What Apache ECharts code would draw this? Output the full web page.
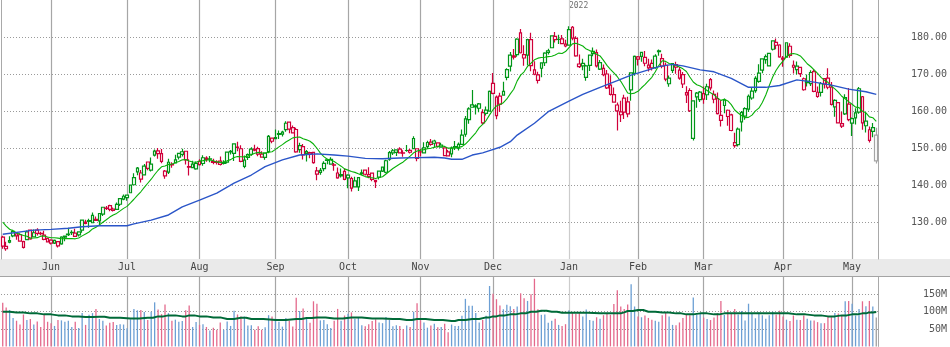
<!DOCTYPE html>
<html><head><meta charset="utf-8">
<script src="https://cdn.jsdelivr.net/npm/echarts@6/dist/echarts.min.js"></script>
<style>html,body{margin:0;padding:0;background:#fff}#c{width:950px;height:347px}</style>
</head><body><div id="c"></div>
<script>
// ---- trading days (year-month : days) ----
const tradingDays = [
  ['2021-05',[11,12,13,14,17,18,19,20,21,24,25,26,27,28]],
  ['2021-06',[1,2,3,4,7,8,9,10,11,14,15,16,17,18,21,22,23,24,25,28,29,30]],
  ['2021-07',[1,2,6,7,8,9,12,13,14,15,16,19,20,21,22,23,26,27,28,29,30]],
  ['2021-08',[2,3,4,5,6,9,10,11,12,13,16,17,18,19,20,23,24,25,26,27,30,31]],
  ['2021-09',[1,2,3,7,8,9,10,13,14,15,16,17,20,21,22,23,24,27,28,29,30]],
  ['2021-10',[1,4,5,6,7,8,11,12,13,14,15,18,19,20,21,22,25,26,27,28,29]],
  ['2021-11',[1,2,3,4,5,8,9,10,11,12,15,16,17,18,19,22,23,24,26,29,30]],
  ['2021-12',[1,2,3,6,7,8,9,10,13,14,15,16,17,20,21,22,23,27,28,29,30,31]],
  ['2022-01',[3,4,5,6,7,10,11,12,13,14,18,19,20,21,24,25,26,27,28,31]],
  ['2022-02',[1,2,3,4,7,8,9,10,11,14,15,16,17,18,22,23,24,25,28]],
  ['2022-03',[1,2,3,4,7,8,9,10,11,14,15,16,17,18,21,22,23,24,25,28,29,30,31]],
  ['2022-04',[1,4,5,6,7,8,11,12,13,14,18,19,20,21,22,25,26,27,28,29]],
  ['2022-05',[2,3,4,5,6,9,10,11]]
];
const prevClose = 126.85;
const opens = [123.50,123.40,124.58,126.25,126.82,126.56,123.16,125.23,127.82,126.01,
127.82,126.96,126.44,125.57,125.08,124.28,124.68,124.07,126.17,126.60,
127.21,127.02,126.53,127.82,129.94,130.37,129.80,130.71,130.30,132.13,
133.77,134.45,133.46,133.41,134.80,136.17,136.60,137.90,140.07,143.54,
141.58,142.75,146.21,144.03,148.10,149.24,148.46,143.75,143.46,145.53,
145.94,147.55,148.27,149.12,144.81,144.69,144.38,146.36,145.81,147.27,
146.98,146.35,146.20,146.44,146.05,146.19,148.97,148.54,150.23,149.80,
145.03,147.44,148.31,149.45,149.81,148.35,147.48,149.00,152.66,152.83,
153.87,153.76,154.97,156.98,155.49,155.00,150.63,150.35,148.56,148.44,
148.82,143.80,143.93,144.45,146.65,145.66,145.47,143.25,142.47,143.66,
141.90,141.76,139.49,139.47,143.06,144.03,142.27,143.23,141.24,142.11,
143.77,143.45,147.01,148.70,148.81,149.69,148.68,149.33,149.36,149.82,
147.22,148.99,148.66,150.39,151.58,151.89,151.41,150.20,150.02,148.96,
148.43,150.37,149.94,151.00,153.71,157.65,161.68,161.12,160.75,159.57,
159.37,159.99,167.48,158.74,164.02,164.29,169.08,172.13,174.91,175.21,
181.12,175.25,175.11,179.28,169.93,168.28,171.56,173.04,175.85,177.09,
180.16,179.33,179.47,178.09,177.83,182.63,179.61,172.70,172.89,169.08,
172.32,176.12,175.78,171.34,171.51,170.00,166.98,164.42,160.02,158.98,
163.50,162.45,165.71,170.16,174.01,174.75,174.48,171.68,172.86,171.73,
176.05,174.14,172.33,167.37,170.97,171.85,171.03,169.82,164.98,165.54,
152.58,163.84,163.06,164.70,164.39,168.47,164.49,163.36,158.82,161.48,
160.20,158.93,151.45,150.90,157.05,158.61,160.51,163.51,165.51,167.99,
171.06,173.88,172.17,176.69,178.55,177.84,174.03,174.57,177.50,172.36,
171.16,171.78,168.71,168.02,167.39,170.62,163.92,165.02,168.76,168.91,
166.46,161.12,162.25,155.91,159.25,161.84,156.71,158.15,159.67,163.85,
156.01,154.93,155.52,153.50];
const highs = [126.27,124.64,126.15,127.89,126.93,126.99,124.92,127.72,128.00,127.94,
128.32,127.39,127.64,125.80,125.35,125.24,124.85,126.16,126.32,128.46,
127.75,128.19,127.44,130.54,130.60,130.89,132.55,131.51,132.41,134.08,
134.32,134.64,133.89,135.25,136.49,137.41,137.33,140.00,143.15,144.89,
144.06,145.65,146.32,147.46,149.57,150.00,149.76,144.07,147.10,146.13,
148.20,148.72,149.83,149.21,146.97,146.55,146.33,146.95,148.04,147.79,
147.84,147.11,146.70,147.71,146.72,149.05,149.44,151.19,151.68,150.72,
148.00,148.50,150.19,150.86,150.32,149.12,148.75,153.49,152.80,154.98,
154.72,154.63,157.26,157.04,156.11,155.48,151.42,151.07,149.44,148.97,
148.82,144.84,144.60,146.43,147.08,147.47,145.96,144.75,144.45,144.38,
142.92,142.21,142.24,142.15,144.22,144.18,144.81,143.25,141.40,143.88,
144.90,146.84,149.17,149.75,149.64,150.18,149.37,150.84,149.73,153.17,
149.94,149.70,151.57,151.97,152.43,152.20,151.57,151.43,150.13,149.43,
150.40,151.88,151.49,155.00,158.67,161.02,165.70,161.80,162.14,160.45,
161.19,165.52,170.30,164.20,164.96,167.88,171.58,175.96,176.75,179.63,
182.13,177.74,179.50,181.14,173.47,170.58,173.20,175.86,176.85,180.42,
181.33,180.63,180.57,179.23,182.88,182.94,180.17,175.30,174.14,172.50,
175.18,177.18,176.62,173.78,172.54,171.08,169.68,166.33,162.30,162.76,
164.39,163.84,170.35,175.00,174.84,175.88,176.24,174.10,173.95,175.35,
176.65,175.48,173.08,169.58,172.95,173.34,171.91,170.54,166.69,166.15,
162.85,165.12,165.42,166.60,167.36,168.91,165.55,165.02,162.88,163.41,
160.39,159.28,154.12,155.57,160.00,161.00,164.48,166.35,169.42,172.64,
174.14,175.28,175.73,179.01,179.61,178.03,174.88,178.49,178.30,173.63,
173.36,171.78,169.03,169.87,171.04,171.27,166.60,167.82,168.88,171.53,
167.87,163.17,162.34,159.79,164.52,166.20,158.23,160.71,166.48,164.08,
159.44,155.83,156.74,155.45];
const lows = [122.77,122.25,124.26,125.85,125.17,124.78,122.86,125.10,125.21,125.94,
126.32,126.42,125.08,124.55,123.94,124.05,123.13,123.85,124.83,126.21,
126.52,125.94,126.10,127.07,129.39,128.46,129.65,130.24,129.21,131.62,
133.23,132.93,132.81,133.35,134.35,135.87,135.76,137.75,140.07,142.66,
140.67,142.65,144.00,143.63,147.68,147.09,145.88,141.67,142.96,144.63,
145.81,146.92,147.70,145.55,142.54,144.58,144.11,145.25,145.18,146.28,
146.17,145.63,145.52,145.30,145.53,145.84,148.27,146.47,149.09,146.15,
144.50,146.78,147.89,149.15,147.80,147.51,146.83,148.61,151.29,152.34,
152.40,153.09,154.39,153.98,153.95,148.70,148.75,146.91,146.37,147.22,
145.76,141.27,142.78,143.70,145.64,145.56,143.82,141.69,142.03,141.28,
139.11,138.27,139.36,138.37,142.72,142.56,141.81,141.04,139.20,141.51,
143.51,143.16,146.55,148.12,147.87,148.64,147.62,149.01,148.49,149.72,
146.41,147.80,148.65,149.82,150.64,150.06,150.16,150.06,147.85,147.68,
147.48,149.43,149.34,150.99,153.05,156.53,161.00,159.06,159.64,156.36,
158.79,159.92,164.53,157.80,159.72,164.28,168.34,170.70,173.92,174.69,
175.53,172.21,172.31,170.75,169.69,167.46,169.12,172.15,175.27,177.07,
178.53,178.14,178.09,177.26,177.71,179.12,174.64,171.64,171.03,168.17,
170.82,174.82,171.79,171.09,169.41,165.94,164.18,162.30,154.70,157.02,
157.82,158.28,162.80,169.51,172.31,173.33,172.12,170.68,170.95,171.43,
174.90,171.55,168.04,166.56,170.25,170.05,168.47,166.19,162.15,159.75,
152.00,160.87,162.43,161.97,162.95,165.55,162.10,159.04,155.80,159.41,
155.98,154.50,150.10,150.38,154.46,157.63,159.76,163.01,164.91,167.65,
170.21,172.75,172.00,176.34,176.70,174.40,171.94,174.44,174.42,170.13,
169.85,169.20,165.50,166.64,166.77,165.04,163.57,163.91,166.10,165.91,
161.50,158.46,156.72,155.38,158.93,157.25,153.27,156.32,159.26,154.95,
154.18,151.49,152.93,145.81];
const closes = [125.91,122.77,124.97,127.45,126.27,124.85,124.69,127.31,125.43,127.10,
126.90,126.85,125.28,124.61,124.28,125.06,123.54,125.89,125.90,126.74,
127.13,126.11,127.35,130.48,129.64,130.15,131.79,130.46,132.30,133.98,
133.70,133.41,133.11,134.78,136.33,136.96,137.27,139.96,142.02,144.57,
143.24,145.11,144.50,145.64,149.15,148.48,146.39,142.45,146.15,145.40,
146.80,148.56,148.99,146.77,144.98,145.64,145.86,145.52,147.36,146.95,
147.06,146.14,146.09,145.60,145.86,148.89,149.10,151.12,150.19,146.36,
146.70,148.19,149.71,149.62,148.36,147.54,148.60,153.12,151.83,152.51,
153.65,154.30,156.69,155.11,154.07,148.97,149.55,148.12,149.03,148.79,
146.06,142.94,143.43,145.85,146.83,146.92,145.37,141.91,142.83,141.50,
142.65,139.14,141.11,142.00,143.29,142.90,142.81,141.51,140.91,143.76,
144.84,146.55,148.76,149.26,149.48,148.69,148.64,149.32,148.85,152.57,
149.80,148.96,150.02,151.49,150.96,151.28,150.44,150.81,147.92,147.87,
149.99,150.00,151.00,153.49,157.87,160.55,161.02,161.41,161.94,156.81,
160.24,165.30,164.77,163.76,161.84,165.32,171.18,175.08,174.56,179.45,
175.74,174.33,179.30,172.26,171.14,169.75,172.99,175.64,176.28,180.33,
179.29,179.38,178.20,177.57,182.01,179.70,174.92,172.00,172.17,172.19,
175.08,175.53,172.19,173.07,169.80,166.23,164.51,162.41,161.62,159.78,
159.69,159.22,170.33,174.78,174.61,175.84,172.90,172.39,171.66,174.83,
176.28,172.12,168.64,168.88,172.79,172.55,168.88,167.30,164.32,160.07,
162.74,164.85,165.12,163.20,166.56,166.23,163.17,159.30,157.44,162.95,
158.52,154.73,150.62,155.09,159.59,160.62,163.98,165.38,168.82,170.21,
174.07,174.72,175.60,178.96,177.77,174.61,174.31,178.44,175.06,171.83,
172.14,170.09,165.75,167.66,170.40,165.29,165.07,167.40,167.23,166.42,
161.79,162.88,156.80,156.57,163.64,157.65,157.96,159.48,166.02,156.77,
157.28,152.06,154.51,146.50];
// volume in millions
const volumes = [126,112,105,82,74,63,92,76,79,63,
72,56,94,71,67,59,76,75,71,74,
56,71,53,96,62,91,96,108,79,74,
60,68,70,62,64,63,52,78,108,104,
105,99,76,100,127,106,93,121,96,74,
77,71,73,104,118,56,70,62,64,56,
46,54,48,69,48,72,59,103,92,86,
86,60,61,48,58,48,55,90,86,80,
71,57,82,74,57,140,102,109,83,68,
130,123,75,76,64,53,74,108,74,89,
94,98,80,83,61,58,64,73,78,69,
67,85,76,58,61,59,50,60,56,100,
124,75,69,54,60,65,55,56,65,41,
63,59,59,88,137,117,117,96,69,76,
88,174,152,136,118,107,120,116,108,115,
153,139,131,150,195,107,91,92,68,74,
80,62,59,64,104,99,94,96,86,106,
76,74,84,80,90,94,91,122,162,115,
108,121,179,115,86,84,89,82,77,74,
71,90,98,86,62,61,69,82,91,90,
141,91,95,83,79,76,83,96,131,91,
105,96,108,92,102,75,123,95,81,98,
90,80,90,100,92,103,86,77,73,89,
77,76,89,80,75,75,70,67,67,87,
84,96,95,88,130,131,123,89,108,130,
116,131,115,83];
// short moving average (green), one value per day
const maShort = [129.97,128.89,128.04,127.64,127.01,126.71,126.37,126.13,125.65,125.68,
125.77,126.18,126.21,125.93,125.73,125.75,125.64,125.49,125.54,125.51,
125.53,125.45,125.66,126.25,126.78,127.29,128.12,128.58,129.22,129.94,
130.60,131.33,131.90,132.33,133.00,133.68,134.23,135.18,136.15,137.21,
138.17,139.34,140.47,141.56,142.84,143.99,144.91,145.16,145.57,145.65,
146.01,146.35,146.80,146.91,146.50,146.21,146.16,146.47,146.59,146.74,
146.77,146.53,146.24,146.12,146.21,146.53,146.86,147.42,147.70,147.64,
147.61,147.81,148.17,148.57,148.82,148.69,148.64,148.84,149.00,149.62,
150.31,150.92,151.62,152.17,152.74,152.89,152.98,152.48,152.20,151.83,
151.07,149.93,148.61,147.68,146.96,146.75,146.33,145.71,145.09,144.36,
144.02,143.64,143.41,143.03,142.67,142.27,142.01,141.97,141.78,142.01,
142.23,142.97,143.73,144.46,145.08,145.66,146.24,147.02,147.82,148.70,
149.19,149.43,149.56,149.78,149.93,150.19,150.37,150.52,150.43,149.96,
149.97,150.08,150.18,150.38,151.07,151.99,153.05,154.11,155.51,156.41,
157.43,158.96,160.34,161.37,161.76,162.24,163.26,164.62,165.89,168.15,
169.70,170.60,172.06,172.91,173.84,174.28,174.46,174.52,174.69,174.78,
175.13,175.64,175.53,176.06,177.14,178.14,178.33,177.97,177.56,176.74,
176.32,175.94,175.34,174.89,173.67,172.32,171.28,170.32,169.26,168.02,
166.48,164.85,164.67,164.84,165.32,166.28,167.12,168.12,169.12,170.63,
172.28,173.57,173.41,172.82,172.63,172.30,171.90,171.39,170.66,169.18,
167.83,167.10,166.75,166.18,165.56,164.93,164.36,163.56,162.87,163.16,
162.73,161.72,160.27,159.46,158.76,158.20,158.28,158.89,160.03,160.76,
162.31,164.31,166.81,169.20,171.01,172.41,173.45,174.75,175.38,175.54,
175.34,174.88,173.90,172.77,172.03,171.10,170.17,169.07,168.29,167.75,
166.71,165.99,165.09,163.99,163.31,162.55,161.83,161.04,160.92,159.96,
159.51,158.42,158.19,157.19];
// long moving average (blue), read at [dayIndex, value]
const maLong = [[0,126.7],[9,127.8],[14,128.0],[19,128.3],[23,128.7],[28,129.0],[36,129.0],[38,129.5],
[43,130.5],[48,131.9],[52,134.1],[57,135.9],[62,137.8],[67,140.5],[72,142.7],[76,144.95],[81,146.8],
[86,148.1],[91,148.4],[96,148.1],[100,147.8],[105,147.2],[110,147.1],[115,147.3],[120,147.4],[125,147.5],
[128,147.3],[130,146.95],[133,146.95],[136,148.1],[139,148.7],[141,149.3],[144,150.2],[147,151.7],
[149,153.5],[154,156.7],[158,159.8],[164,162.7],[168,164.5],[173,166.4],[178,168.2],[182,169.7],
[187,171.1],[190,172.0],[194,172.6],[197,172.2],[202,171.1],[206,170.6],[211,168.8],[216,166.4],
[221,166.4],[225,166.9],[230,168.4],[235,167.8],[240,167.0],[245,165.9],[250,165.2],[253,164.5]];
// volume average (dark green), read at [dayIndex, value in millions]
const volAvg = [[0,100],[4,98.0],[8,95.2],[12,92.3],[16,89.4],[20,86.5],[24,84.6],[28,85.5],[31,82.7],
[37,80.7],[42,82.7],[45,86.5],[48,89.4],[52,86.5],[54,89.4],[57,86.5],[61,83.6],[65,78.8],[69,82.7],
[72,78.8],[79,75.9],[85,78.8],[88,82.0],[91,83.6],[96,80.7],[101,83.6],[107,80.7],[113,78.8],[117,75.9],
[120,78.8],[125,75.9],[130,73.0],[132,75.9],[136,78.8],[140,83.6],[142,86.5],[144,89.4],[147,92.3],
[150,95.2],[153,99.9],[156,102.8],[159,99.9],[162,97.1],[166,97.1],[173,95.2],[178,95.2],[180,98.0],
[181,101.9],[184,104.8],[187,99.9],[191,98.0],[195,95.2],[198,92.3],[202,95.2],[206,92.3],[209,95.2],
[217,95.2],[225,95.2],[230,92.3],[235,89.4],[239,86.5],[243,89.4],[246,92.3],[249,95.2],[251,98.0],[253,99.0]];
const MONTHS = ['Jan','Feb','Mar','Apr','May','Jun','Jul','Aug','Sep','Oct','Nov','Dec'];

// ---- build ----
const dates = [];
tradingDays.forEach(([ym, days]) => days.forEach(d => dates.push(ym + '-' + String(d).padStart(2, '0'))));
const lastIdx = dates.length - 1;
const isMonthStart = i => i > 0 && dates[i].slice(0, 7) !== dates[i - 1].slice(0, 7);
const isYearStart = i => i > 0 && dates[i].slice(0, 4) !== dates[i - 1].slice(0, 4);

const UP = '#009618', DN = '#d0003a', GRAY = '#a4a4a4';
const VUP = '#6c9fd4', VDN = '#e4698c', VGRAY = '#a0a0a0';
function dir(i) {
  if (i === lastIdx) return 0;
  const p = i === 0 ? prevClose : closes[i - 1];
  return closes[i] >= p ? 1 : -1;
}
const candleData = dates.map((d, i) => {
  const s = dir(i), c = s === 0 ? GRAY : (s > 0 ? UP : DN);
  return { value: [opens[i], closes[i], lows[i], highs[i]],
    itemStyle: { color: '#ffffff', color0: c, borderColor: c, borderColor0: c } };
});
const volData = volumes.map((v, i) => {
  const s = dir(i);
  return { value: v, itemStyle: { color: s === 0 ? VGRAY : (s > 0 ? VUP : VDN) } };
});
const monthLines = [];
dates.forEach((d, i) => {
  if (isMonthStart(i)) monthLines.push({ xAxis: d, lineStyle: { color: isYearStart(i) ? '#cccccc' : '#a6a6a6' } });
});
const markLine = { silent: true, symbol: ['none', 'none'], label: { show: false }, z: 1,
  lineStyle: { type: 'solid', width: 1.2 }, data: monthLines, animation: false };

const FONT = 'DejaVu Sans Mono';
const dotted = { color: '#9a9a9a', type: [1, 2], width: 1 };

const option = {
  animation: false,
  backgroundColor: '#ffffff',
  grid: [
    { left: 1, right: 71, top: 0, height: 259 },
    { left: 1, right: 71, top: 277, height: 69.4 },
    { left: 0, right: 0, top: 259, height: 17, show: true, backgroundColor: '#eaeaea', borderWidth: 0 }
  ],
  xAxis: [
    { type: 'category', gridIndex: 0, data: dates, position: 'bottom',
      axisLine: { show: false }, axisTick: { show: false }, splitLine: { show: false },
      axisLabel: { interval: (i) => isMonthStart(i), formatter: (v) => MONTHS[parseInt(v.slice(5, 7), 10) - 1],
        fontFamily: FONT, fontSize: 10, color: '#444', margin: 3 } },
    { type: 'category', gridIndex: 0, data: dates, position: 'top',
      axisLine: { show: false }, axisTick: { show: false }, splitLine: { show: false },
      axisLabel: { inside: true, interval: (i) => isYearStart(i), formatter: (v) => v.slice(0, 4),
        align: 'left', fontFamily: FONT, fontSize: 8, color: '#707070', margin: 2 } },
    { type: 'category', gridIndex: 1, data: dates,
      axisLine: { show: false }, axisTick: { show: false }, axisLabel: { show: false }, splitLine: { show: false } },
    { type: 'category', gridIndex: 2, data: [''], position: 'top',
      axisLine: { show: true, lineStyle: { color: '#a4a4a4', width: 1 } }, axisTick: { show: false },
      axisLabel: { show: false }, splitLine: { show: false } }
  ],
  yAxis: [
    { type: 'value', gridIndex: 0, position: 'right', min: 120, max: 190, interval: 10,
      axisLine: { show: true, lineStyle: { color: '#a9a9a9' } }, axisTick: { show: false },
      splitLine: { show: true, showMinLine: false, showMaxLine: false, lineStyle: dotted },
      axisLabel: { formatter: (v) => (v <= 120 || v >= 190) ? '' : v.toFixed(2), align: 'right', margin: 69,
        fontFamily: FONT, fontSize: 10, color: '#555' } },
    { type: 'value', gridIndex: 0, position: 'left', min: 120, max: 190,
      axisLine: { show: true, lineStyle: { color: '#a9a9a9' } }, axisTick: { show: false },
      axisLabel: { show: false }, splitLine: { show: false } },
    { type: 'value', gridIndex: 1, position: 'right', min: 0, max: 200, interval: 50,
      axisLine: { show: true, lineStyle: { color: '#a9a9a9' } }, axisTick: { show: false },
      splitLine: { show: true, showMinLine: false, showMaxLine: false, lineStyle: dotted },
      axisLabel: { formatter: (v) => (v <= 0 || v >= 200) ? '' : v + 'M', align: 'right', margin: 69,
        fontFamily: FONT, fontSize: 10, color: '#555' } },
    { type: 'value', gridIndex: 2, show: false }
  ],
  series: [
    { type: 'candlestick', xAxisIndex: 0, yAxisIndex: 0, data: candleData, barWidth: 3.2, z: 3,
      itemStyle: { borderWidth: 1.2 }, markLine: markLine },
    { type: 'line', xAxisIndex: 0, yAxisIndex: 0, data: maShort, showSymbol: false, z: 4,
      lineStyle: { color: '#08b008', width: 1.1 } },
    { type: 'line', xAxisIndex: 0, yAxisIndex: 0, data: maLong.map(([i, v]) => [dates[i], v]), showSymbol: false, z: 4,
      lineStyle: { color: '#2a55c8', width: 1.4 } },
    { type: 'bar', xAxisIndex: 2, yAxisIndex: 2, data: volData, barWidth: 1.3, z: 3, markLine: markLine },
    { type: 'line', xAxisIndex: 2, yAxisIndex: 2, data: volAvg.map(([i, v]) => [dates[i], v]), showSymbol: false,
      step: 'middle', z: 4, lineStyle: { color: '#006a38', width: 2 } }
  ]
};
const chart = echarts.init(document.getElementById('c'), null, { renderer: 'canvas' });
chart.setOption(option);
</script>
</body></html>
